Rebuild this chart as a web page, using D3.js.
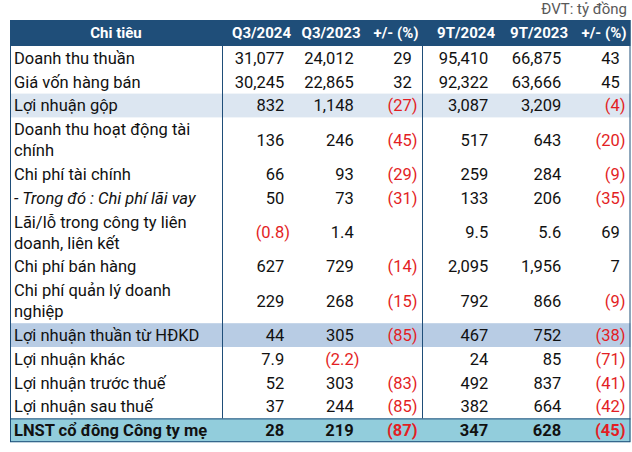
<!DOCTYPE html>
<html>
<head>
<meta charset="utf-8">
<script src="https://cdn.jsdelivr.net/npm/d3@7/dist/d3.min.js"></script>
<style>
  body { margin: 0; background: #fff; }
  svg { display: block; font-family: Roboto, "Noto Sans", sans-serif; }
</style>
</head>
<body>
<svg id="chart"></svg>
<script>
var width = 632;
var height = 452;

// table data
var labels = [
  "Doanh thu thuần",
  "Giá vốn hàng bán",
  "Lợi nhuận gộp",
  "Doanh thu hoạt động tài|chính",
  "Chi phí tài chính",
  "- Trong đó : Chi phí lãi vay",
  "Lãi/lỗ trong công ty liên|doanh, liên kết",
  "Chi phí bán hàng",
  "Chi phí quản lý doanh|nghiệp",
  "Lợi nhuận thuần từ HĐKD",
  "Lợi nhuận khác",
  "Lợi nhuận trước thuế",
  "Lợi nhuận sau thuế",
  "LNST cổ đông Công ty mẹ"
];
var headers = ["Chi tiêu", "Q3/2024", "Q3/2023", "+/- (%)", "9T/2024", "9T/2023", "+/- (%)"];
var q3_2024 = [31077, 30245, 832, 136, 66, 50, -0.8, 627, 229, 44, 7.9, 52, 37, 28];
var q3_2023 = [24012, 22865, 1148, 246, 93, 73, 1.4, 729, 268, 305, -2.2, 303, 244, 219];
var q3_chg  = [29, 32, -27, -45, -29, -31, null, -14, -15, -85, null, -83, -85, -87];
var t9_2024 = [95410, 92322, 3087, 517, 259, 133, 9.5, 2095, 792, 467, 24, 492, 382, 347];
var t9_2023 = [66875, 63666, 3209, 643, 284, 206, 5.6, 1956, 866, 752, 85, 837, 664, 628];
var t9_chg  = [43, 45, -4, -20, -9, -35, 69, 7, -9, -38, -71, -41, -42, -45];
var unitNote = "ĐVT: tỷ đồng";

var columns = [q3_2024, q3_2023, q3_chg, t9_2024, t9_2023, t9_chg];

// highlighted rows
var bandColor = { 2: "#dce6f1", 9: "#b8cce4", 13: "#92cddc" };

var left = 10, right = 630.5;
var headTop = 20, headH = 26;
var rowH = 23.8, lineH = 21;
var fontSize = 16.5, headSize = 15;
var navy = "#1f4e79", red = "#e31e24";

var svg = d3.select("#chart").attr("width", width).attr("height", height);

// column right edges (values right aligned)
var colX = d3.scaleOrdinal()
    .domain(d3.range(6))
    .range([290, 359.5, 417.5, 494, 567, 625.5]);

// row layout
var rows = labels.map(function(l, i) {
  return { label: l.split("|"), i: i };
});
var y = headTop + headH;
rows.forEach(function(r) {
  r.y = y;
  r.h = rowH + (r.label.length - 1) * lineH;
  y += r.h;
});
var bottom = y;

var fmtInt = d3.format(",");
var fmtDec = d3.format(".1f");
function fmt(v) {
  var a = Math.abs(v);
  return Number.isInteger(a) ? fmtInt(a) : fmtDec(a);
}

// unit note
svg.append("text")
  .attr("x", 627).attr("y", 14)
  .attr("text-anchor", "end")
  .attr("font-size", headSize)
  .attr("fill", "#595959")
  .text(unitNote);

// header
svg.append("rect")
  .attr("x", left).attr("y", headTop)
  .attr("width", right - left).attr("height", headH)
  .attr("fill", navy);

svg.selectAll("text.head")
  .data(headers)
  .enter()
  .append("text")
    .attr("class", "head")
    .attr("x", (d, i) => i == 0 ? 116 : colX(i - 1) + 1)
    .attr("y", headTop + headH / 2)
    .attr("dy", "0.36em")
    .attr("text-anchor", (d, i) => i == 0 ? "middle" : "end")
    .attr("font-size", headSize)
    .attr("font-weight", "bold")
    .attr("fill", "#fff")
    .text(d => d);

// row bands
svg.selectAll("rect.band")
  .data(rows.filter(r => bandColor[r.i]))
  .enter()
  .append("rect")
    .attr("class", "band")
    .attr("x", left).attr("y", d => d.y)
    .attr("width", right - left).attr("height", d => d.h)
    .attr("fill", d => bandColor[d.i]);

var last = rows[rows.length - 1];

// grid lines
svg.append("rect")
  .attr("x", left + 0.5).attr("y", headTop + 0.5)
  .attr("width", right - left - 1).attr("height", bottom - headTop - 1)
  .attr("fill", "none")
  .attr("stroke", navy);

[222, 422].forEach(function(x) {
  svg.append("line")
    .attr("x1", x + 0.5).attr("x2", x + 0.5)
    .attr("y1", headTop + headH).attr("y2", last.y)
    .attr("stroke", navy);
});
svg.append("line")
  .attr("x1", left).attr("x2", right)
  .attr("y1", last.y + 0.5).attr("y2", last.y + 0.5)
  .attr("stroke", navy);

// labels and values
var rowG = svg.selectAll("g.row")
  .data(rows)
  .enter()
  .append("g")
    .attr("class", "row")
    .attr("font-size", fontSize)
    .attr("font-weight", d => d.i == 13 ? "bold" : "normal");

rowG.each(function(r) {
  var g = d3.select(this);
  var n = r.label.length;
  var cy = r.y + r.h / 2;
  g.selectAll("text.lbl")
    .data(r.label)
    .enter()
    .append("text")
      .attr("class", "lbl")
      .attr("x", left + 4)
      .attr("y", (d, k) => cy + (k - (n - 1) / 2) * lineH)
      .attr("dy", "0.36em")
      .attr("fill", "#111")
      .attr("font-style", r.i == 5 ? "italic" : "normal")
      .text(d => d);

  columns.forEach(function(col, c) {
    var v = col[r.i];
    if (v == null) return;
    var t = g.append("text")
      .attr("x", colX(c))
      .attr("y", cy)
      .attr("dy", "0.36em")
      .attr("text-anchor", "end");
    if (v < 0) {
      t.attr("fill", red).text("(" + fmt(v) + ")");
    } else {
      t.attr("fill", "#111").text(fmt(v));
      t.append("tspan").attr("fill-opacity", 0).text(")");
    }
  });
});
</script>
</body>
</html>
